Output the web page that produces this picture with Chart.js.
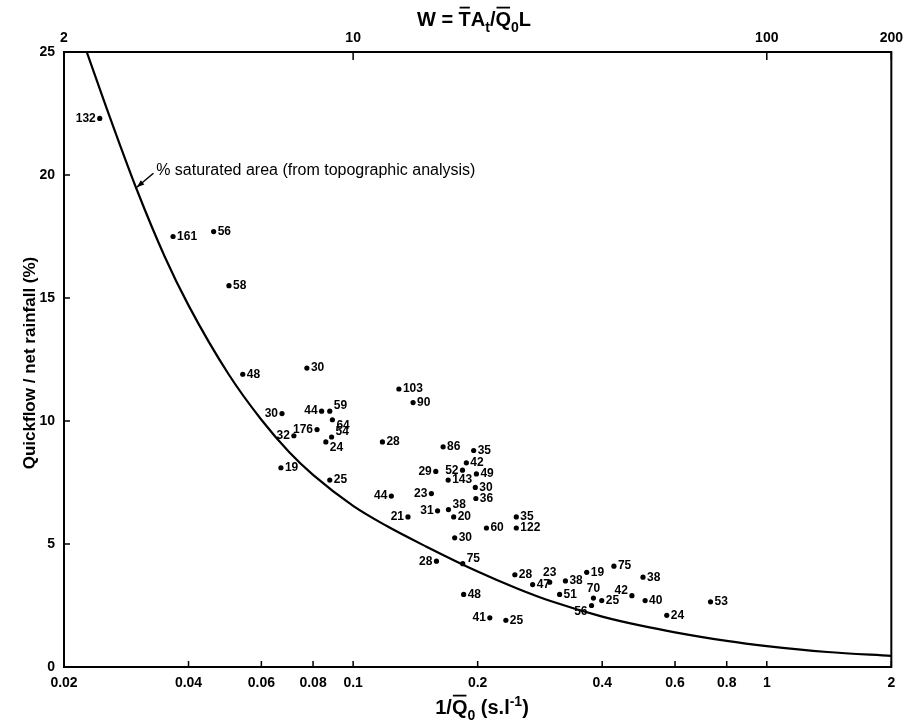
<!DOCTYPE html>
<html>
<head>
<meta charset="utf-8">
<script src="https://cdn.jsdelivr.net/npm/chart.js@4/dist/chart.umd.min.js"></script>
<style>
  html, body { margin: 0; padding: 0; background: #fff; }
  canvas { display: block; }
</style>
</head>
<body>
<canvas id="chart" width="908" height="723"></canvas>
<script>
// Catchment observations: inverse mean discharge (s/l) and quickflow share of net rainfall (%)
const flowInverse = [
  0.0244, 0.0367, 0.046, 0.0501, 0.0541, 0.0773, 0.0673, 0.0839, 0.0878, 0.0891,
  0.0818, 0.0719, 0.0887, 0.0859, 0.0669, 0.0878, 0.1177, 0.1237, 0.129, 0.1396,
  0.165, 0.1956, 0.1878, 0.1838, 0.1584, 0.1986, 0.1697, 0.1974, 0.1546, 0.198,
  0.160, 0.170, 0.175, 0.1357, 0.248, 0.210, 0.248, 0.176, 0.159, 0.184,
  0.185, 0.214, 0.234, 0.246, 0.2986, 0.2716, 0.3156, 0.326, 0.367, 0.427,
  0.502, 0.381, 0.399, 0.377, 0.472, 0.508, 0.573, 0.731
];
const quickflowPct = [
  22.3, 17.5, 17.7, 15.5, 11.9, 12.15, 10.3, 10.4, 10.4, 10.05,
  9.65, 9.4, 9.35, 9.15, 8.1, 7.6, 9.15, 6.95, 11.3, 10.75,
  8.95, 8.8, 8.3, 8.0, 7.95, 7.85, 7.6, 7.3, 7.05, 6.85,
  6.35, 6.4, 6.1, 6.1, 6.1, 5.65, 5.65, 5.25, 4.3, 4.2,
  2.95, 2.0, 1.9, 3.75, 3.45, 3.35, 2.95, 3.5, 3.85, 4.1,
  3.65, 2.8, 2.7, 2.5, 2.9, 2.7, 2.1, 2.65
];
const pointLabels = [
  '132', '161', '56', '58', '48', '30', '30', '44', '59', '64',
  '176', '32', '54', '24', '19', '25', '28', '44', '103', '90',
  '86', '35', '42', '52', '29', '49', '143', '30', '23', '36',
  '31', '38', '20', '21', '35', '60', '122', '30', '28', '75',
  '48', '41', '25', '28', '23', '47', '51', '38', '19', '75',
  '38', '70', '25', '56', '42', '40', '24', '53'
];

// Percentage saturated area from the topographic analysis
const curveX = [0.0227, 0.025, 0.030, 0.035, 0.04, 0.05, 0.06, 0.07, 0.08, 0.1,
                0.12, 0.15, 0.2, 0.25, 0.3, 0.4, 0.5, 0.6, 0.8, 1.0, 1.4, 2];
const curveY = [25, 23.0, 19.4, 16.7, 14.7, 11.9, 10.05, 8.74, 7.81, 6.55,
                5.75, 4.9, 3.88, 3.18, 2.68, 2.05, 1.67, 1.41, 1.06, 0.85, 0.61, 0.45];

// Axis ticks
const bottomTicks = [0.02, 0.04, 0.06, 0.08, 0.1, 0.2, 0.4, 0.6, 0.8, 1, 2];
const bottomTickLabels = ['0.02', '0.04', '0.06', '0.08', '0.1', '0.2', '0.4', '0.6', '0.8', '1', '2'];
const topTicks = [2, 10, 100, 200];
const topTickLabels = ['2', '10', '100', '200'];
const yTicks = [0, 5, 10, 15, 20, 25];

const FAM = "'Liberation Sans', Arial, Helvetica, sans-serif";
const NARROW = "'Liberation Sans Narrow', 'Liberation Sans', Arial, sans-serif";

// Where each point's number sits relative to its dot (default: right)
const labelSide = {
  0: 'L', 6: 'L', 7: 'L', 8: 'RU', 9: 'RD', 10: 'L', 11: 'L', 12: 'RU', 13: 'RD',
  17: 'L', 23: 'L', 24: 'L', 28: 'L', 30: 'L', 31: 'RU', 33: 'L', 38: 'L', 39: 'RU',
  41: 'L', 44: 'T', 51: 'T', 53: 'LD', 54: 'LU'
};

function tickLabel(values, labels) {
  return v => {
    let best = 0;
    values.forEach((t, i) => { if (Math.abs(Math.log(t) - Math.log(v)) < Math.abs(Math.log(values[best]) - Math.log(v))) best = i; });
    return Math.abs(values[best] - v) / v < 1e-6 ? labels[best] : '';
  };
}

// Draw a run of text pieces with overlines, subscripts and superscripts
function drawRich(ctx, segs, cx, baseY, size, weight) {
  const big = `${weight} ${size}px ${FAM}`;
  const small = `${weight} ${Math.round(size * 0.72)}px ${FAM}`;
  let total = 0;
  segs.forEach(s => {
    ctx.font = (s.sub || s.sup) ? small : big;
    s.w = ctx.measureText(s.t).width;
    total += s.w;
  });
  let x = cx - total / 2;
  ctx.textAlign = 'left';
  ctx.textBaseline = 'alphabetic';
  segs.forEach(s => {
    ctx.font = (s.sub || s.sup) ? small : big;
    const dy = s.sub ? size * 0.32 : (s.sup ? -size * 0.42 : 0);
    ctx.fillText(s.t, x, baseY + dy);
    if (s.over) {
      ctx.beginPath();
      ctx.lineWidth = 1.8;
      ctx.moveTo(x + 1, baseY - size * 0.92);
      ctx.lineTo(x + s.w - 1, baseY - size * 0.92);
      ctx.stroke();
    }
    x += s.w;
  });
}

const decorations = {
  id: 'decorations',
  afterDraw(chart) {
    const ctx = chart.ctx;
    const { left, right, top, bottom } = chart.chartArea;
    const xs = chart.scales.x, x2 = chart.scales.x2, ys = chart.scales.y;
    ctx.save();
    ctx.strokeStyle = '#000';
    ctx.fillStyle = '#000';

    // frame
    ctx.lineWidth = 2;
    ctx.strokeRect(left, top, right - left, bottom - top);

    // inward tick marks
    ctx.lineWidth = 1.5;
    ctx.beginPath();
    bottomTicks.forEach(v => {
      const p = xs.getPixelForValue(v);
      ctx.moveTo(p, bottom); ctx.lineTo(p, bottom - 6);
    });
    topTicks.forEach(v => {
      const p = x2.getPixelForValue(v);
      ctx.moveTo(p, top); ctx.lineTo(p, top + 8);
    });
    yTicks.forEach(v => {
      const p = ys.getPixelForValue(v);
      ctx.moveTo(left, p); ctx.lineTo(left + 6, p);
    });
    ctx.stroke();

    // point numbers
    ctx.font = `bold 12px ${NARROW}`;
    flowInverse.forEach((xv, i) => {
      const px = xs.getPixelForValue(xv);
      const py = ys.getPixelForValue(quickflowPct[i]);
      const side = labelSide[i] || 'R';
      let tx = px + 4, ty = py, align = 'left';
      if (side[0] === 'L') { tx = px - 4; align = 'right'; }
      if (side === 'T') { tx = px; ty = py - 9; align = 'center'; }
      if (side.endsWith('U')) ty = py - 5;
      if (side.endsWith('D')) ty = py + 6;
      ctx.textAlign = align;
      ctx.textBaseline = 'middle';
      ctx.fillText(pointLabels[i], tx, ty);
    });

    // curve annotation with arrow
    const hx = xs.getPixelForValue(0.0300), hy = ys.getPixelForValue(19.5);
    const tx = xs.getPixelForValue(0.0329), ty = ys.getPixelForValue(20.07);
    ctx.lineWidth = 1.5;
    ctx.beginPath(); ctx.moveTo(tx, ty); ctx.lineTo(hx, hy); ctx.stroke();
    const ang = Math.atan2(hy - ty, hx - tx);
    ctx.beginPath();
    ctx.moveTo(hx, hy);
    ctx.lineTo(hx - 8 * Math.cos(ang - 0.35), hy - 8 * Math.sin(ang - 0.35));
    ctx.lineTo(hx - 8 * Math.cos(ang + 0.35), hy - 8 * Math.sin(ang + 0.35));
    ctx.closePath(); ctx.fill();
    ctx.font = `16px ${FAM}`;
    ctx.textAlign = 'left';
    ctx.textBaseline = 'alphabetic';
    ctx.fillText('% saturated area (from topographic analysis)', xs.getPixelForValue(0.0334), ys.getPixelForValue(20.0));

    // axis titles
    drawRich(ctx, [
      { t: 'W = ' }, { t: 'T', over: true }, { t: 'A' }, { t: 't', sub: true },
      { t: '/' }, { t: 'Q', over: true }, { t: '0', sub: true }, { t: 'L' }
    ], 474, 26, 20, 'bold');
    drawRich(ctx, [
      { t: '1/' }, { t: 'Q', over: true }, { t: '0', sub: true }, { t: ' (s.l' },
      { t: '-1', sup: true }, { t: ')' }
    ], 482, 714, 20, 'bold');

    ctx.save();
    ctx.translate(30, 363);
    ctx.rotate(-Math.PI / 2);
    ctx.font = `bold 17px ${FAM}`;
    ctx.textAlign = 'center';
    ctx.textBaseline = 'middle';
    ctx.fillText('Quickflow / net rainfall (%)', 0, 0);
    ctx.restore();

    ctx.restore();
  }
};

const tickFont = { family: FAM, size: 14, weight: 'bold' };

new Chart(document.getElementById('chart'), {
  type: 'scatter',
  data: {
    datasets: [
      {
        label: 'Catchments',
        data: flowInverse.map((x, i) => ({ x, y: quickflowPct[i] })),
        pointRadius: 2.6,
        pointHoverRadius: 2.6,
        pointBackgroundColor: '#000',
        pointBorderWidth: 0,
        xAxisID: 'x', yAxisID: 'y'
      },
      {
        label: '% saturated area',
        data: curveX.map((x, i) => ({ x, y: curveY[i] })),
        showLine: true,
        pointRadius: 0,
        borderColor: '#000',
        borderWidth: 2.2,
        cubicInterpolationMode: 'monotone',
        xAxisID: 'x', yAxisID: 'y'
      }
    ]
  },
  options: {
    responsive: false,
    animation: false,
    devicePixelRatio: 1,
    layout: { padding: { left: 0, right: 16, top: 0, bottom: 0 } },
    plugins: { legend: { display: false }, tooltip: { enabled: false } },
    scales: {
      x: {
        type: 'logarithmic', position: 'bottom', min: 0.02, max: 2,
        afterBuildTicks: s => { s.ticks = bottomTicks.map(v => ({ value: v })); },
        afterFit: s => { s.height = 56; },
        grid: { display: false, drawTicks: false },
        border: { display: false },
        ticks: { callback: tickLabel(bottomTicks, bottomTickLabels), autoSkip: false, maxRotation: 0, padding: 8, color: '#000', font: tickFont }
      },
      x2: {
        type: 'logarithmic', position: 'top', min: 2, max: 200,
        afterBuildTicks: s => { s.ticks = topTicks.map(v => ({ value: v })); },
        afterFit: s => { s.height = 52; },
        grid: { display: false, drawTicks: false },
        border: { display: false },
        ticks: { callback: tickLabel(topTicks, topTickLabels), autoSkip: false, maxRotation: 0, padding: 5, color: '#000', font: tickFont }
      },
      y: {
        type: 'linear', position: 'left', min: 0, max: 25,
        afterBuildTicks: s => { s.ticks = yTicks.map(v => ({ value: v })); },
        afterFit: s => { s.width = 64; },
        grid: { display: false, drawTicks: false },
        border: { display: false },
        ticks: { padding: 9, color: '#000', font: tickFont }
      }
    }
  },
  plugins: [decorations]
});
</script>
</body>
</html>
